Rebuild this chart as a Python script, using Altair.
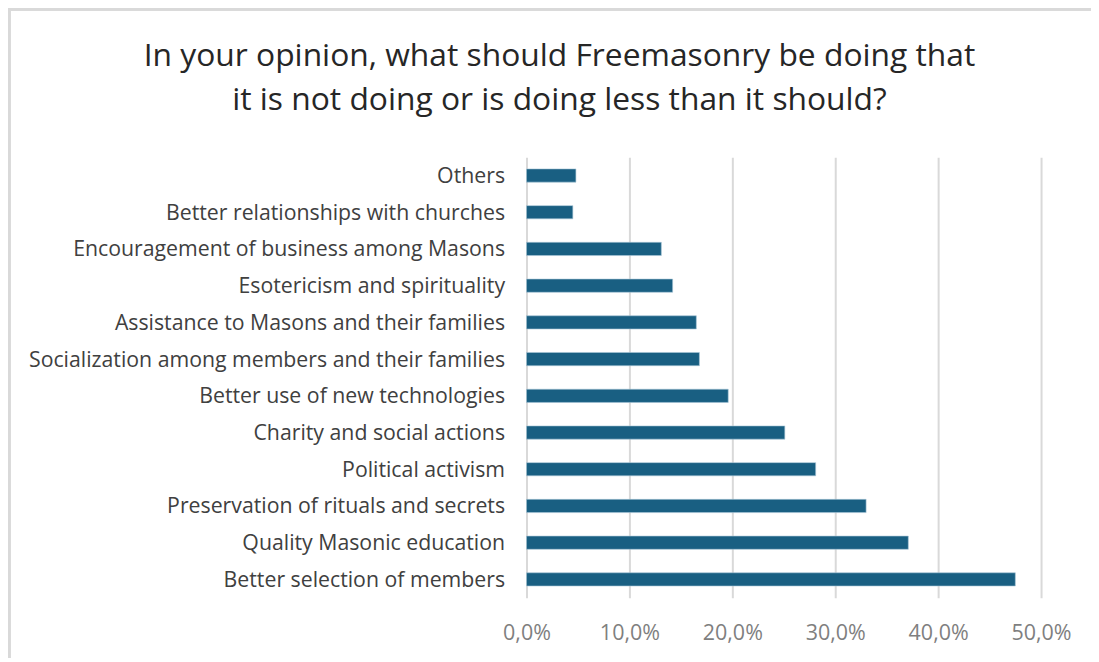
import altair as alt
import pandas as pd

categories = [
    "Others",
    "Better relationships with churches",
    "Encouragement of business among Masons",
    "Esotericism and spirituality",
    "Assistance to Masons and their families",
    "Socialization among members and their families",
    "Better use of new technologies",
    "Charity and social actions",
    "Political activism",
    "Preservation of rituals and secrets",
    "Quality Masonic education",
    "Better selection of members",
]
values = [0.048, 0.045, 0.131, 0.142, 0.165, 0.168, 0.196, 0.251, 0.281, 0.330, 0.371, 0.475]
title_lines = [
    "In your opinion, what should Freemasonry be doing that",
    "it is not doing or is doing less than it should?",
]

df = pd.DataFrame({"category": categories, "value": values})

FONT = "Open Sans"

bars = alt.Chart(df).mark_bar(color="#195f82", stroke="#a9c6d6", strokeWidth=0.6).encode(
    x=alt.X(
        "value:Q",
        scale=alt.Scale(domain=[0, 0.5], nice=False),
        axis=alt.Axis(
            values=[0, 0.1, 0.2, 0.3, 0.4, 0.5],
            labelExpr="replace(format(datum.value, '.1%'), '.', ',')",
            title=None,
            domain=False,
            ticks=False,
            grid=True,
            gridColor="#d9d9d9",
            gridWidth=2,
            labelFont=FONT,
            labelFontSize=21.5,
            labelColor="#7f7f7f",
            labelPadding=25,
            labelBaseline="top",
            labelFlush=False,
        ),
    ),
    y=alt.Y(
        "category:N",
        sort=categories,
        scale=alt.Scale(paddingInner=0.64, paddingOuter=0.32),
        axis=alt.Axis(
            title=None,
            domain=False,
            ticks=False,
            grid=False,
            labelFont=FONT,
            labelFontSize=21.3,
            labelColor="#404040",
            labelPadding=22,
            labelOffset=1.5,
            labelLimit=600,
        ),
    ),
)

frame_top = alt.Chart(df).mark_rule(color="#d9d9d9", strokeWidth=2.5).encode(
    x=alt.value(-519), x2=alt.value(600), y=alt.value(-148)
)
frame_left = alt.Chart(df).mark_rule(color="#d9d9d9", strokeWidth=2.5).encode(
    x=alt.value(-518), y=alt.value(-149), y2=alt.value(520)
)

title = alt.Chart(df).transform_filter("datum.category == 'Others'").mark_text(
    text=title_lines,
    font=FONT,
    fontSize=31.8,
    color="#262626",
    align="center",
    baseline="alphabetic",
    lineHeight=44,
).encode(x=alt.value(33), y=alt.value(-91))

chart = alt.layer(frame_top, frame_left, title, bars).properties(
    width=515,
    height=441,
    autosize=alt.AutoSizeParams(type="none"),
    padding={"left": 519, "top": 149, "right": 50, "bottom": 60},
).configure_view(stroke=None)

chart.save("out.html", embed_options={"renderer": "svg", "actions": False})
